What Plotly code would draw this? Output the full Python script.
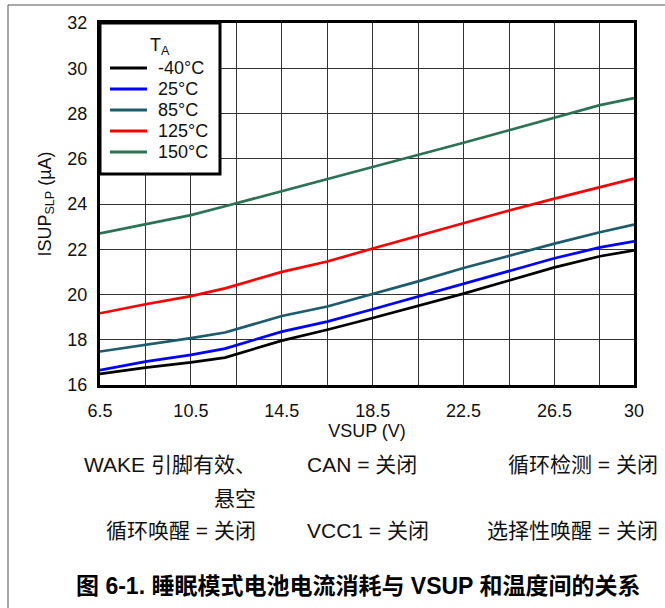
import plotly.graph_objects as go

# Supply voltage sample points (V)
vsup = [6.5, 8.5, 10.5, 12, 14.5, 16.5, 18.5, 20.5, 22.5, 24.5, 26.5, 28.5, 30]

# Sleep-mode supply current (uA) per ambient temperature
isup_m40 = [16.49, 16.77, 17.00, 17.21, 17.96, 18.44, 18.96, 19.50, 20.04, 20.62, 21.20, 21.69, 21.95]
isup_25 = [16.66, 17.03, 17.33, 17.61, 18.36, 18.80, 19.35, 19.91, 20.45, 21.03, 21.60, 22.08, 22.35]
isup_85 = [17.48, 17.77, 18.07, 18.32, 19.05, 19.47, 20.02, 20.58, 21.17, 21.72, 22.25, 22.75, 23.09]
isup_125 = [19.17, 19.57, 19.93, 20.27, 21.00, 21.46, 22.03, 22.60, 23.14, 23.71, 24.24, 24.76, 25.12]
isup_150 = [22.70, 23.10, 23.51, 23.90, 24.57, 25.08, 25.63, 26.17, 26.71, 27.26, 27.82, 28.37, 28.68]

temp_labels = ["-40°C", "25°C", "85°C", "125°C", "150°C"]
series = [isup_m40, isup_25, isup_85, isup_125, isup_150]
colors = ["#000000", "#0000ff", "#1c5c6c", "#ff0000", "#2c7356"]

# Axis ticks: labels every 4 V, extra gridlines in between
x_tickvals = [6.5, 10.5, 14.5, 18.5, 22.5, 26.5, 30]
x_ticktext = ["6.5", "10.5", "14.5", "18.5", "22.5", "26.5", "30"]
x_minor_grid = [8.5, 12.5, 16.5, 20.5, 24.5, 28.5]
y_tickvals = [16, 18, 20, 22, 24, 26, 28, 30, 32]

# Test conditions shown beneath the chart
cond_col1 = ["WAKE 引脚有效、", "悬空", "循环唤醒 = 关闭"]
cond_col2 = ["CAN = 关闭", "", "VCC1 = 关闭"]
cond_col3 = ["循环检测 = 关闭", "", "选择性唤醒 = 关闭"]
caption = "图 6-1. 睡眠模式电池电流消耗与 VSUP 和温度间的关系"

W, H = 665, 608
ML, MR, MT, MB = 100, 31, 23, 223
PW, PH = W - ML - MR, H - MT - MB
FONT = "Liberation Sans, Arial, Noto Sans CJK SC, sans-serif"
TXT = "#111"


def px(x):
    return (x - ML) / PW


def py(y):
    return (H - MB - y) / PH


fig = go.Figure()
for name, vals, col in zip(temp_labels, series, colors):
    fig.add_trace(go.Scatter(x=vsup, y=vals, mode="lines", name=name,
                             line=dict(color=col, width=2.7), showlegend=False))

fig.update_xaxes(range=[6.5, 30], tickvals=x_tickvals, ticktext=x_ticktext,
                 showgrid=True, gridcolor="#333", gridwidth=1,
                 minor=dict(tickvals=x_minor_grid, showgrid=True, gridcolor="#333", gridwidth=1),
                 showline=True, mirror=True, linecolor="black", linewidth=3,
                 ticks="", ticklabelstandoff=7, zeroline=False,
                 tickfont=dict(size=18, color=TXT, family=FONT),
                 title=dict(text="VSUP (V)", font=dict(size=18, color=TXT, family=FONT),
                            standoff=0))
fig.update_yaxes(range=[16, 32], tickvals=y_tickvals,
                 showgrid=True, gridcolor="#333", gridwidth=1,
                 showline=True, mirror=True, linecolor="black", linewidth=3,
                 ticks="", ticklabelstandoff=6, zeroline=False,
                 tickfont=dict(size=18, color=TXT, family=FONT),
                 title=dict(text="ISUP<sub>SLP</sub> (µA)",
                            font=dict(size=18, color=TXT, family=FONT), standoff=12))

annotations = []
shapes = []

# Legend box drawn in the upper-left corner of the plot
shapes.append(dict(type="rect", xref="paper", yref="paper",
                   x0=px(100), x1=px(220), y0=py(174), y1=py(23),
                   fillcolor="white", line=dict(color="black", width=3), layer="above"))
annotations.append(dict(text="T<sub>A</sub>", x=px(160), y=py(46), xanchor="center",
                        font=dict(size=18, color=TXT, family=FONT)))
legend_rows = [68, 89, 110, 131, 152]
for name, col, yy in zip(temp_labels, colors, legend_rows):
    shapes.append(dict(type="line", xref="paper", yref="paper",
                       x0=px(110), x1=px(147), y0=py(yy), y1=py(yy),
                       line=dict(color=col, width=3), layer="above"))
    annotations.append(dict(text=name, x=px(156), y=py(yy), xanchor="left",
                            font=dict(size=18, color=TXT, family=FONT)))

rows_y = [465, 498, 530]
for i, yy in enumerate(rows_y):
    if cond_col1[i]:
        annotations.append(dict(text=cond_col1[i], x=px(258), y=py(yy), xanchor="right",
                                font=dict(size=21, color=TXT, family=FONT)))
    if cond_col2[i]:
        annotations.append(dict(text=cond_col2[i], x=px(305), y=py(yy), xanchor="left",
                                font=dict(size=21, color=TXT, family=FONT)))
    if cond_col3[i]:
        annotations.append(dict(text=cond_col3[i], x=px(660), y=py(yy), xanchor="right",
                                font=dict(size=21, color=TXT, family=FONT)))
annotations.append(dict(text="<b>" + caption + "</b>", x=px(358), y=py(586), xanchor="center",
                        font=dict(size=23, color="#000", family=FONT)))
for a in annotations:
    a.update(xref="paper", yref="paper", yanchor="middle", showarrow=False)

# Outer frame lines (top and left)
shapes += [
    dict(type="line", xref="paper", yref="paper", x0=px(8), x1=px(W), y0=py(5), y1=py(5),
         line=dict(color="#555", width=1)),
    dict(type="line", xref="paper", yref="paper", x0=px(8), x1=px(8), y0=py(5), y1=py(H),
         line=dict(color="#555", width=1)),
]

fig.update_layout(
    width=W, height=H,
    margin=dict(l=ML, r=MR, t=MT, b=MB),
    paper_bgcolor="white", plot_bgcolor="white",
    showlegend=False,
    annotations=annotations,
    shapes=shapes,
)

fig.write_html("out.html")
